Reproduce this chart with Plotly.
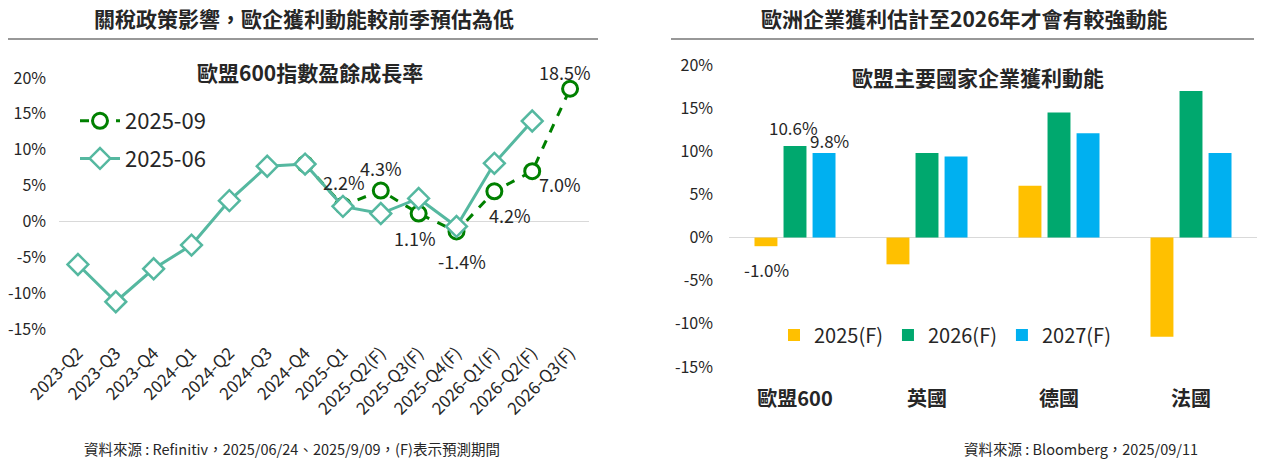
import plotly.graph_objects as go

# ---- Left chart data ----
quarters = ["2023-Q2", "2023-Q3", "2023-Q4", "2024-Q1", "2024-Q2", "2024-Q3", "2024-Q4",
            "2025-Q1", "2025-Q2(F)", "2025-Q3(F)", "2025-Q4(F)", "2026-Q1(F)", "2026-Q2(F)", "2026-Q3(F)"]
jun_x = quarters[:13]
jun_vals = [-6.0, -11.2, -6.6, -3.3, 2.9, 7.7, 8.0, 2.1, 1.1, 3.2, -0.7, 8.1, 14.0]
sep_x = quarters[6:]
sep_vals = [8.0, 2.2, 4.3, 1.1, -1.4, 4.2, 7.0, 18.5]
sep_labels = ["", "2.2%", "4.3%", "1.1%", "-1.4%", "4.2%", "7.0%", "18.5%"]
# label offsets in pixels (dx, dy; dy>0 = up)
sep_label_shift = [(0, 0), (1, 24), (0, 23), (-4, -24), (5, -30), (16, -24), (28, -13), (-5, 17)]

# ---- Right chart data ----
countries = ["歐盟600", "英國", "德國", "法國"]
y2025 = [-1.0, -3.1, 6.0, -11.5]
y2026 = [10.6, 9.8, 14.5, 17.0]
y2027 = [9.8, 9.4, 12.1, 9.8]
y_ticks = [-15, -10, -5, 0, 5, 10, 15, 20]
y_ticktext = [f"{v}%" for v in y_ticks]

W, H = 1263, 460
FONT = "Noto Sans CJK TC"
TXT = "#262626"

def px_x(p):
    return p / W

def px_y(p):
    return 1 - p / H

fig = go.Figure()

fig.add_trace(go.Scatter(
    x=sep_x, y=sep_vals, name="2025-09", mode="lines+markers",
    line=dict(color="#008000", width=3, dash="dash"),
    marker=dict(symbol="circle", size=15, color="white", line=dict(color="#008000", width=3)),
    xaxis="x", yaxis="y", legend="legend", legendrank=1, legendgroup="a", cliponaxis=False,
))
fig.add_trace(go.Scatter(
    x=jun_x, y=jun_vals, name="2025-06", mode="lines+markers",
    line=dict(color="#55B8A0", width=3),
    marker=dict(symbol="diamond", size=16, color="white", line=dict(color="#55B8A0", width=2.5)),
    xaxis="x", yaxis="y", legend="legend", legendrank=2, legendgroup="b", cliponaxis=False,
))

bar_series = [("2025(F)", y2025, "#FFC000"), ("2026(F)", y2026, "#00A86E"), ("2027(F)", y2027, "#00B0F0")]
for name, vals, col in bar_series:
    fig.add_trace(go.Bar(
        x=countries, y=vals, name=name, marker=dict(color=col, line=dict(width=0)),
        xaxis="x2", yaxis="y2", legend="legend2",
    ))

annotations = []
# line data labels
for xv, yv, lab, (dx, dy) in zip(sep_x, sep_vals, sep_labels, sep_label_shift):
    if not lab:
        continue
    annotations.append(dict(
        x=xv, y=yv, xref="x", yref="y", text=lab, showarrow=False,
        xanchor="center", yanchor="middle", xshift=dx, yshift=dy,
        font=dict(family=FONT, size=18, color=TXT),
    ))
# bar labels (only 歐盟600)
bar_label_shift = [(-29, -23), (-2, 19), (34, 13)]
for (name, vals, col), (dx, dy) in zip(bar_series, bar_label_shift):
    v = vals[0]
    annotations.append(dict(
        x=countries[0], y=v, xref="x2", yref="y2", text=f"{v:.1f}%", showarrow=False,
        xanchor="center", yanchor="middle", xshift=dx, yshift=dy,
        font=dict(family=FONT, size=17, color=TXT),
    ))

def ann(x, y, text, size, xanchor="center"):
    return dict(x=px_x(x), y=px_y(y), xref="paper", yref="paper", showarrow=False,
                xanchor=xanchor, yanchor="middle", text=text,
                font=dict(family=FONT, size=size, color=TXT))

annotations += [
    ann(304, 18, "<b>關稅政策影響，歐企獲利動能較前季預估為低</b>", 21),
    ann(965, 18, "<b>歐洲企業獲利估計至2026年才會有較強動能</b>", 21),
    ann(310, 72, "<b>歐盟600指數盈餘成長率</b>", 21),
    ann(978, 77, "<b>歐盟主要國家企業獲利動能</b>", 21),
    ann(292, 448, "資料來源 : Refinitiv，2025/06/24、2025/9/09，(F)表示預測期間", 14.5),
    ann(1200, 448, "資料來源 : Bloomberg，2025/09/11", 14.5, xanchor="right"),
]

shapes = [
    dict(type="line", xref="paper", yref="paper", x0=px_x(8), x1=px_x(598), y0=px_y(39), y1=px_y(39),
         line=dict(color="#333333", width=1.2)),
    dict(type="line", xref="paper", yref="paper", x0=px_x(671), x1=px_x(1254), y0=px_y(39), y1=px_y(39),
         line=dict(color="#333333", width=1.2)),
]

fig.update_layout(
    width=W, height=H, margin=dict(l=0, r=0, t=0, b=0, autoexpand=False),
    paper_bgcolor="white", plot_bgcolor="white",
    font=dict(family=FONT, color=TXT),
    showlegend=True,
    barmode="group", bargap=0.34, bargroupgap=0.21,
    xaxis=dict(domain=[px_x(59), px_x(589)], type="category", categoryorder="array",
               categoryarray=quarters, range=[-0.5, 13.5], tickangle=-45, automargin=False,
               showgrid=False, showline=False, ticks="", zeroline=False, ticklabelstandoff=10,
               tickfont=dict(family=FONT, size=17, color=TXT), anchor="y"),
    yaxis=dict(domain=[px_y(329), px_y(78)], range=[-15, 20], tickvals=y_ticks, ticktext=y_ticktext,
               showgrid=False, zeroline=True, zerolinecolor="#D9D9D9", zerolinewidth=1, automargin=False,
               showline=False, ticks="", ticklabelstandoff=12,
               tickfont=dict(family=FONT, size=16, color=TXT), anchor="x"),
    xaxis2=dict(domain=[px_x(729), px_x(1257)], type="category", showgrid=False, showline=False,
                ticks="", zeroline=False, anchor="y2", automargin=False, ticklabelstandoff=18,
                tickvals=countries, ticktext=[f"<b>{c}</b>" for c in countries],
                tickfont=dict(family=FONT, size=20, color=TXT)),
    yaxis2=dict(domain=[px_y(367), px_y(65)], range=[-15, 20], tickvals=y_ticks, ticktext=y_ticktext,
                showgrid=False, zeroline=True, zerolinecolor="#D9D9D9", zerolinewidth=1, automargin=False,
                showline=False, ticks="", ticklabelstandoff=15,
                tickfont=dict(family=FONT, size=16, color=TXT), anchor="x2"),
    legend=dict(x=px_x(75), y=px_y(100), xanchor="left", yanchor="top", bgcolor="rgba(0,0,0,0)",
                font=dict(family=FONT, size=22, color=TXT), traceorder="grouped", tracegroupgap=6,
                itemwidth=40),
    legend2=dict(x=px_x(945), y=px_y(335), xanchor="center", yanchor="middle", orientation="h",
                 bgcolor="rgba(0,0,0,0)", font=dict(family=FONT, size=20, color=TXT)),
    annotations=annotations, shapes=shapes,
)

fig.write_html("out.html", config={"displayModeBar": False},
               post_script="document.body.style.margin='0';")
